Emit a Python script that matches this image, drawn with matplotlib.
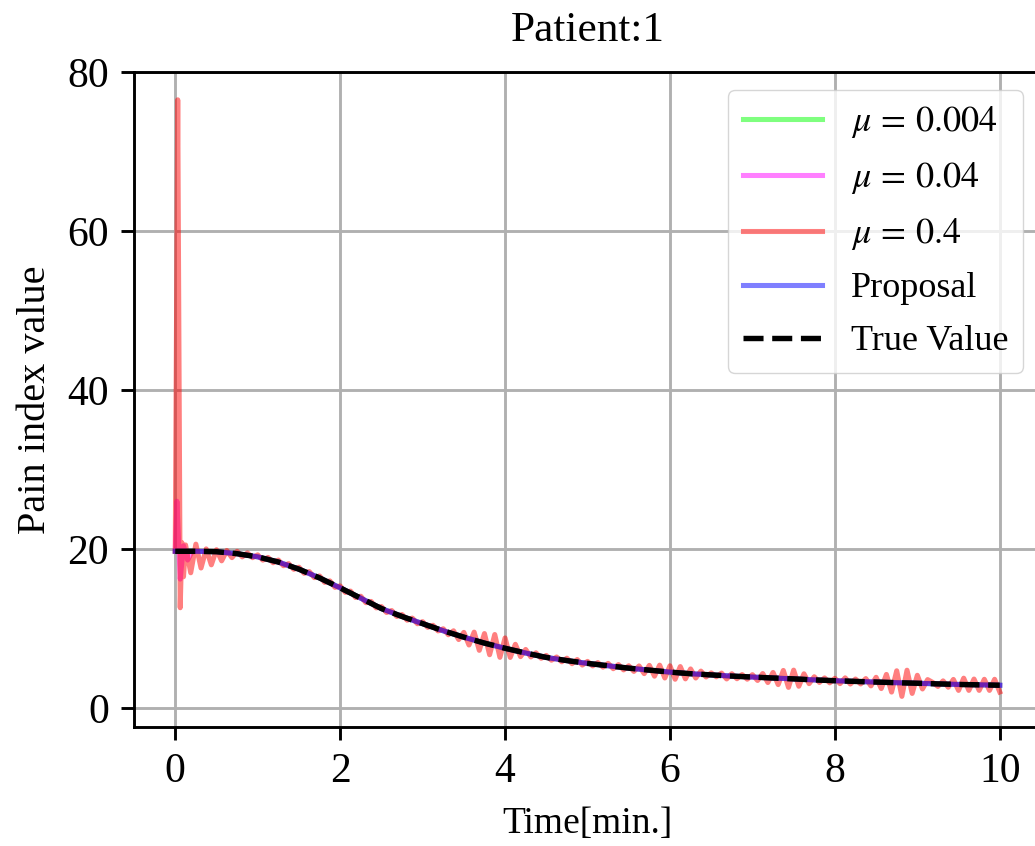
import numpy as np
import matplotlib
matplotlib.use("Agg")
import matplotlib.pyplot as plt

S = 2.6  # everything is drawn at about 2.6x matplotlib's default scale

plt.rcParams.update({
    "font.family": ["Liberation Serif", "DejaVu Serif"],
    "mathtext.fontset": "stix",
    "font.size": 26,
    "xtick.labelsize": 30,
    "ytick.labelsize": 30,
    "axes.linewidth": 0.8 * S,
    "grid.linewidth": 0.8 * S,
    "lines.linewidth": 1.4 * S,
    "xtick.major.size": 3.5 * S,
    "ytick.major.size": 3.5 * S,
    "xtick.major.width": 0.8 * S,
    "ytick.major.width": 0.8 * S,
    "xtick.major.pad": 3.5 * S,
    "ytick.major.pad": 3.5 * S,
})

# true curve (and the near-identical estimates) on a 0.25 min grid
t_grid = np.arange(0, 10.001, 0.25)
true_vals = [19.7, 19.7, 19.65, 19.4, 19.0, 18.35, 17.45, 16.35, 15.1, 13.8,
             12.5, 11.5, 10.6, 9.7, 8.9, 8.15, 7.5, 6.9, 6.35, 5.95,
             5.6, 5.3, 5.0, 4.75, 4.5, 4.3, 4.15, 4.0, 3.88, 3.76,
             3.65, 3.52, 3.42, 3.33, 3.25, 3.17, 3.1, 3.02, 2.95, 2.9, 2.85]
proposal = [19.7, 19.7, 19.65, 19.4, 19.0, 18.35, 17.45, 16.35, 15.1, 13.8,
            12.5, 11.5, 10.6, 9.7, 8.9, 8.15, 7.5, 6.9, 6.35, 5.95,
            5.6, 5.3, 5.0, 4.75, 4.5, 4.3, 4.15, 4.0, 3.88, 3.76,
            3.65, 3.52, 3.42, 3.33, 3.25, 3.17, 3.1, 3.02, 2.95, 2.9, 2.85]
mu_004 = [19.7, 19.7, 19.65, 19.4, 19.0, 18.35, 17.45, 16.35, 15.1, 13.8,
          12.5, 11.5, 10.6, 9.7, 8.9, 8.15, 7.5, 6.9, 6.35, 5.95,
          5.6, 5.3, 5.0, 4.75, 4.5, 4.3, 4.15, 4.0, 3.88, 3.76,
          3.65, 3.52, 3.42, 3.33, 3.25, 3.17, 3.1, 3.02, 2.95, 2.9, 2.85]

# mu = 0.04: short transient at the start, then on the true curve
t_mu04_head = [0.0, 0.02, 0.06, 0.1, 0.15, 0.2]
mu_04_head = [19.7, 26.0, 16.2, 20.4, 18.6, 19.6]
mu_04_tail = true_vals[1:]

# mu = 0.4: big spike at the start, then ringing around the curve
t_mu4_head = [0.0, 0.03, 0.06, 0.08, 0.1]
mu_4_head = [19.7, 76.5, 12.6, 20.8, 16.5]
t_mu4_tail = np.arange(0.125, 10.001, 0.0625)
mu_4_tail = [20.5, 17.0, 20.6, 17.6, 20.0, 18.0, 19.9, 18.5, 19.8, 18.9,
             19.7, 19.0, 19.5, 18.9,
             19.25, 18.59, 18.93, 18.26, 18.6, 17.88, 18.15, 17.43,
             17.7, 16.93, 17.15, 16.38, 16.6, 15.79, 15.98, 15.16,
             15.35, 14.53, 14.7, 13.88, 14.05, 13.23, 13.4, 12.58,
             12.75, 12.0, 12.25, 11.5, 11.75, 11.03, 11.3, 10.58,
             10.85, 10.13, 10.4, 9.68, 9.95, 9.2, 9.7, 8.6,
             9.5, 7.91, 9.53, 7.24, 9.35, 6.69, 9.23, 6.36,
             8.8, 6.35, 8.0, 6.45, 7.35, 6.41, 6.93, 6.24,
             6.6, 6.0, 6.4, 5.8, 6.25, 5.56, 6.08, 5.39,
             5.85, 5.28, 5.7, 5.13, 5.6, 4.93, 5.45, 4.78,
             5.3, 4.59, 5.28, 4.31, 5.35, 3.99, 5.38, 3.76,
             5.3, 3.6, 5.2, 3.65, 4.9, 3.76, 4.63, 3.89,
             4.4, 3.91, 4.38, 3.64, 4.3, 3.67, 4.19, 3.61,
             4.18, 3.45, 4.32, 3.19, 4.46, 2.93, 4.71, 2.58,
             4.75, 2.72, 4.29, 3.05, 3.92, 3.2, 3.77, 3.15,
             3.72, 3.05, 3.78, 3.0, 3.63, 3.01, 3.69, 2.77,
             3.85, 2.43, 4.21, 1.99, 4.67, 1.45, 4.74, 1.82,
             4.1, 2.38, 3.56, 3.2, 2.7, 3.4, 2.6, 3.58,
             2.2, 3.74, 2.2, 3.63, 2.2, 3.6, 2.2, 3.6,
             2.0]

fig = plt.figure(figsize=(10.35, 8.46), dpi=100)
ax = fig.add_axes([0.1295, 0.1407, 0.8763, 0.7742])

ax.plot(t_grid, mu_004, color="#00ff00", alpha=0.5, label=r"$\mu\,=\,0.004$")
ax.plot(np.concatenate([t_mu04_head, t_grid[1:]]), mu_04_head + mu_04_tail,
        color="#ff00ff", alpha=0.5, label=r"$\mu\,=\,0.04$")
ax.plot(np.concatenate([t_mu4_head, t_mu4_tail]), mu_4_head + mu_4_tail,
        color="#ff0000", alpha=0.5, label=r"$\mu\,=\,0.4$")
ax.plot(t_grid, proposal, color="#0000ff", alpha=0.5, label="Proposal")
ax.plot(t_grid, true_vals, color="black", ls="--", lw=1.5 * S,
        label="True Value")

ax.set_xlim(-0.5, 10.5)
ax.set_ylim(-2.4, 80)
ax.set_xticks([0, 2, 4, 6, 8, 10])
ax.set_yticks([0, 20, 40, 60, 80])
ax.grid(True)
ax.set_axisbelow(True)

ax.set_title("Patient:1", pad=8.5 * S)
ax.set_xlabel("Time[min.]", fontsize=27, labelpad=4.5 * S)
ax.set_ylabel("Pain index value", fontsize=29, labelpad=3.5 * S)
ax.legend(loc="upper right", handlelength=2.2, labelspacing=0.55)

fig.savefig("out.png", dpi=100)
